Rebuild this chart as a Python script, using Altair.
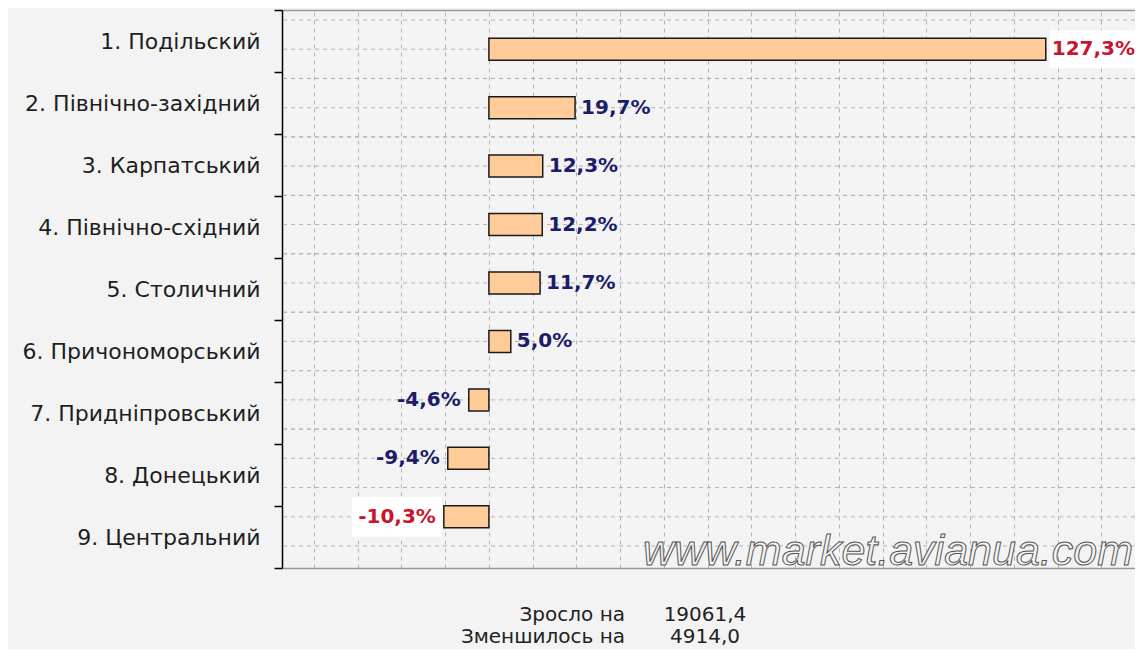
import altair as alt
import pandas as pd

# ---- data ----
regions = [
    "1. Подільский",
    "2. Північно-західний",
    "3. Карпатський",
    "4. Північно-східний",
    "5. Столичний",
    "6. Причономорський",
    "7. Придніпровський",
    "8. Донецький",
    "9. Центральний",
]
values = [127.3, 19.7, 12.3, 12.2, 11.7, 5.0, -4.6, -9.4, -10.3]
footer_labels = ["Зросло на", "Зменшилось на"]
footer_values = ["19061,4", "4914,0"]
watermark = "www.market.avianua.com"
grid_values = list(range(-40, 150, 10))

df = pd.DataFrame({"region": regions, "value": values})
df["label"] = [f"{v:.1f}%".replace(".", ",") for v in values]
vmax, vmin = max(values), min(values)
df["extreme"] = ["yes" if v in (vmax, vmin) else "no" for v in values]

# ---- layout / style ----
W, H = 853, 558
STEP = 526 / 9
HALF = STEP / 2
BG = "#f3f3f3"
NAVY = "#1c1c6b"
RED = "#c8142e"
GRID = "#b3b3b3"
FRAME = "#9a9a9a"
FONT = "DejaVu Sans"

bar_scale = alt.Scale(type="band", paddingInner=0, paddingOuter=0.274, align=0.3125)
xscale = alt.Scale(domain=[-47.3, 147.7], nice=False, zero=False)

base = alt.Chart(df)
y_bar = alt.Y("region:N", sort=regions, scale=bar_scale, axis=None)
x_enc = alt.X(
    "value:Q",
    scale=xscale,
    axis=alt.Axis(values=grid_values, labels=False, ticks=False, domain=True,
                  domainColor=FRAME, domainWidth=1.5,
                  grid=True, gridDash=[4, 4], gridColor=GRID, title=None),
)

grid_c = base.mark_rule(strokeDash=[4, 4], color=GRID, strokeWidth=1).encode(y=y_bar)
grid_t = base.mark_rule(strokeDash=[4, 4], color=GRID, strokeWidth=1, yOffset=-HALF).encode(y=y_bar)
grid_b = base.mark_rule(strokeDash=[4, 4], color=GRID, strokeWidth=1, yOffset=HALF).encode(y=y_bar)

# white label boxes behind the highlighted (max / min) values
box_pos = base.transform_filter("datum.extreme == 'yes' && datum.value >= 0").mark_bar(
    size=38, color="#ffffff", xOffset=4, x2Offset=100
).encode(x="value:Q", x2=alt.X2("value:Q"), y=y_bar)
box_neg = base.transform_filter("datum.extreme == 'yes' && datum.value < 0").mark_bar(
    size=40, color="#ffffff", xOffset=-2, x2Offset=-92
).encode(x="value:Q", x2=alt.X2("value:Q"), y=y_bar)

bars = base.mark_bar(size=22, fill="#FFCC99", stroke="#1a1a1a", strokeWidth=1.5).encode(
    x=x_enc, x2=alt.X2Datum(0), y=y_bar
)

color_enc = alt.Color("extreme:N", scale=alt.Scale(domain=["no", "yes"], range=[NAVY, RED]), legend=None)

txt_pos = base.transform_filter("datum.value >= 0").mark_text(
    align="left", baseline="middle", dx=6, font=FONT, fontWeight="bold", fontSize=20
).encode(x="value:Q", y=y_bar, text="label:N", color=color_enc)

txt_neg = base.transform_filter("datum.value < 0").mark_text(
    align="right", baseline="middle", dx=-8, font=FONT, fontWeight="bold", fontSize=20
).encode(x="value:Q", y=y_bar, text="label:N", color=color_enc)

# vertical zero line: one band-high segment per region, together spanning the bar area
zero_line = base.mark_rule(color="#111111", strokeWidth=1.5).encode(x=alt.datum(0), y=y_bar)

wm = alt.Chart(pd.DataFrame({"t": [watermark]})).mark_text(
    align="right", baseline="alphabetic", font="Liberation Sans", fontStyle="italic",
    fontSize=43, fill=BG, stroke="#555555", strokeWidth=1
).encode(x=alt.value(W - 2), y=alt.value(555), text="t:N")

footer_layers = []
for i, (lab, val) in enumerate(zip(footer_labels, footer_values)):
    fdf = pd.DataFrame({"lab": [lab], "val": [val]})
    footer_layers.append(
        alt.Chart(fdf).mark_text(align="right", baseline="middle", font=FONT, fontSize=20, color="#222222")
        .encode(x=alt.value(343), y=alt.value(605 + 22 * i), text="lab:N")
    )
    footer_layers.append(
        alt.Chart(fdf).mark_text(align="center", baseline="middle", font=FONT, fontSize=20, color="#222222")
        .encode(x=alt.value(423), y=alt.value(605 + 22 * i), text="val:N")
    )

inner = alt.layer(grid_c, grid_t, grid_b, box_pos, box_neg, bars, zero_line,
                  txt_pos, txt_neg, wm, *footer_layers)

axis_layer = alt.Chart(df).mark_point(opacity=0).encode(
    x=alt.X(
        "value:Q",
        scale=xscale,
        axis=alt.Axis(orient="top", labels=False, ticks=False, grid=False, domain=True,
                      domainColor=FRAME, domainWidth=1.5, title=None),
    ),
    y=alt.Y(
        "region:N",
        sort=regions,
        scale=alt.Scale(type="band", paddingInner=0, paddingOuter=0),
        axis=alt.Axis(
            title=None, orient="left", domainColor="#000000", domainWidth=1.5,
            tickColor="#000000", tickSize=8, tickWidth=1.5, tickBand="extent",
            labelFont=FONT, labelFontSize=22, labelColor="#1e1e1e",
            labelPadding=14, labelLimit=400, grid=False,
        ),
    ),
)

chart = (
    alt.layer(inner, axis_layer)
    .resolve_scale(y="independent")
    .resolve_axis(x="independent")
    .properties(
        width=W,
        height=H,
        padding={"left": 274, "top": 2, "right": 0, "bottom": 81},
        autosize=alt.AutoSizeParams(type="none"),
        background=BG,
    )
    .configure_view(stroke=None)
)

chart.save("out.html", embed_options={"renderer": "svg", "actions": False})
